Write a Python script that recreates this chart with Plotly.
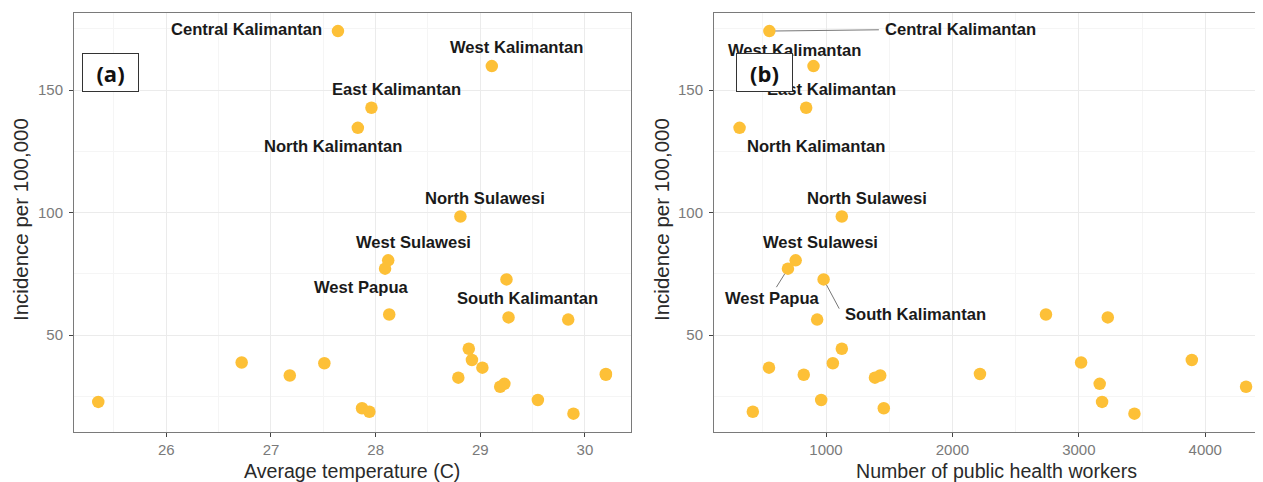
import plotly.graph_objects as go

# ---------------- data ----------------
provinces = ["Central Kalimantan", "West Kalimantan", "East Kalimantan", "North Kalimantan",
             "North Sulawesi", "West Sulawesi", "West Papua", "South Kalimantan",
             "", "", "", "", "", "", "", "", "", "", "", "", "", "", "", "", "", "", ""]
avg_temperature = [27.64, 29.11, 27.96, 27.83, 28.81, 28.12, 28.09, 29.25,
                   28.13, 29.27, 29.84, 28.89, 28.92, 26.72, 27.51, 29.02, 30.20, 30.20,
                   27.18, 28.79, 29.23, 29.19, 29.55, 25.35, 27.87, 27.94, 29.89]
health_workers = [552, 901, 843, 316, 1125, 760, 699, 981,
                  2740, 3229, 930, 1125, 3894, 3018, 1054, 549, 2218, 824,
                  1429, 1387, 3165, 4323, 962, 3184, 1457, 421, 3440]
incidence = [174.1, 159.8, 142.8, 134.6, 98.4, 80.5, 77.1, 72.7,
             58.4, 57.2, 56.3, 44.4, 39.8, 38.8, 38.5, 36.7, 34.1, 33.8,
             33.5, 32.6, 30.1, 28.9, 23.5, 22.7, 20.1, 18.7, 17.9]

# ---------------- styles ----------------
POINT = "#FDC037"
FONT = "Liberation Sans, Arial, sans-serif"
TXT = "#1a1a1a"
PAGE_PAD = 8                      # default body margin of the html page
W, H = 1263 - PAGE_PAD, 482 - PAGE_PAD


def px(v):
    """convert a page pixel to a figure pixel"""
    return v - PAGE_PAD


# label offsets in px (dx right, dy up) relative to their point
off_a = {"Central Kalimantan": (-91, 1.7), "West Kalimantan": (25, 18.3),
         "East Kalimantan": (25, 18.4), "North Kalimantan": (-25, -19),
         "North Sulawesi": (25, 18.3), "West Sulawesi": (25, 18.3),
         "West Papua": (-24, -18.6), "South Kalimantan": (21.4, -19)}
off_b = {"Central Kalimantan": (191.6, 1.7), "West Kalimantan": (-19.5, 16),
         "East Kalimantan": (25, 18.4), "North Kalimantan": (76.5, -19),
         "North Sulawesi": (25, 18.3), "West Sulawesi": (25.3, 18.3),
         "West Papua": (-15, -29.6), "South Kalimantan": (92, -35)}
# segment tails (px, dx right, dy down) for panel b
seg_b = {"Central Kalimantan": (111, -1.3), "West Papua": (-12.5, 20),
         "South Kalimantan": (16.4, 30.7)}

fig = go.Figure()
fig.add_trace(go.Scatter(x=avg_temperature, y=incidence, mode="markers",
                         marker=dict(color=POINT, size=12.5, line=dict(width=0)),
                         xaxis="x", yaxis="y", hoverinfo="skip", showlegend=False))
fig.add_trace(go.Scatter(x=health_workers, y=incidence, mode="markers",
                         marker=dict(color=POINT, size=12.5, line=dict(width=0)),
                         xaxis="x2", yaxis="y2", hoverinfo="skip", showlegend=False))

ydom = [1 - px(432.3) / H, 1 - px(12.7) / H]
grid = dict(showgrid=True, gridcolor="#ebebeb", gridwidth=1,
            showline=True, linecolor="#7a7a7a", linewidth=1,
            ticks="outside", ticklen=4, tickcolor="#444", tickwidth=1,
            tickfont=dict(family=FONT, size=15, color="#7a7a7a"),
            zeroline=False, fixedrange=True)
minor = dict(showgrid=True, gridcolor="#f5f5f5", gridwidth=1, ticks="")

fig.update_layout(
    width=W, height=H, margin=dict(l=0, r=0, t=0, b=0),
    paper_bgcolor="white", plot_bgcolor="white", showlegend=False,
    xaxis=dict(domain=[px(74) / W, px(630.7) / W], range=[25.118, 30.437], tick0=0, dtick=1,
               anchor="y", mirror=True, minor=dict(dtick=0.5, **minor), **grid),
    yaxis=dict(domain=ydom, range=[10.3, 181.6], tick0=0, dtick=50, anchor="x",
               mirror=True, ticklabelstandoff=3, minor=dict(dtick=25, **minor), **grid),
    xaxis2=dict(domain=[px(714) / W, 1.0], range=[113.9, 4457], tick0=0, dtick=1000,
                anchor="y2", mirror=True, minor=dict(dtick=500, **minor), **grid),
    yaxis2=dict(domain=ydom, range=[10.3, 181.6], tick0=0, dtick=50, anchor="x2",
                mirror=False, ticklabelstandoff=3, minor=dict(dtick=25, **minor), **grid),
)

ann = []
label_font = dict(family=FONT, size=16.6, color=TXT)
for name, t, w, inc in zip(provinces, avg_temperature, health_workers, incidence):
    if not name:
        continue
    dx, dy = off_a[name]
    ann.append(dict(x=t, y=inc, xref="x", yref="y", text="<b>%s</b>" % name,
                    showarrow=False, xshift=dx, yshift=dy, xanchor="center",
                    yanchor="middle", font=label_font))
    if name in seg_b:
        sx, sy = seg_b[name]
        ann.append(dict(x=w, y=inc, xref="x2", yref="y2", text="", showarrow=True,
                        arrowhead=0, arrowwidth=1, arrowcolor="#777", ax=sx, ay=sy,
                        standoff=6))
    dx, dy = off_b[name]
    ann.append(dict(x=w, y=inc, xref="x2", yref="y2", text="<b>%s</b>" % name,
                    showarrow=False, xshift=dx, yshift=dy, xanchor="center",
                    yanchor="middle", font=label_font))

# axis titles
xtitle_font = dict(family=FONT, size=19.6, color="#2a2a2a")
ytitle_font = dict(family=FONT, size=20.5, color="#2a2a2a")
ann.append(dict(x=px((74 + 630.7) / 2) / W, y=1 - px(471) / H, xref="paper", yref="paper",
                text="Average temperature (C)", showarrow=False, font=xtitle_font,
                xanchor="center", yanchor="middle"))
ann.append(dict(x=px((714 + 1279) / 2) / W, y=1 - px(471) / H, xref="paper", yref="paper",
                text="Number of public health workers", showarrow=False, font=xtitle_font,
                xanchor="center", yanchor="middle"))
for xc in (20, 661):
    ann.append(dict(x=px(xc) / W, y=1 - px(220) / H, xref="paper", yref="paper",
                    text="Incidence per 100,000", showarrow=False, font=ytitle_font,
                    textangle=-90, xanchor="center", yanchor="middle"))

# panel tags
for tag, xc in (("(a)", 110.5), ("(b)", 765)):
    ann.append(dict(x=px(xc) / W, y=1 - px(72) / H, xref="paper", yref="paper",
                    text="<b>%s</b>" % tag, showarrow=False,
                    font=dict(family="Open Sans, DejaVu Sans, sans-serif", size=22, color="#111"),
                    bgcolor="white", bordercolor="#333", borderwidth=1, borderpad=4,
                    width=47, height=29, xanchor="center", yanchor="middle"))

fig.update_layout(annotations=ann)
fig.write_html("out.html")
